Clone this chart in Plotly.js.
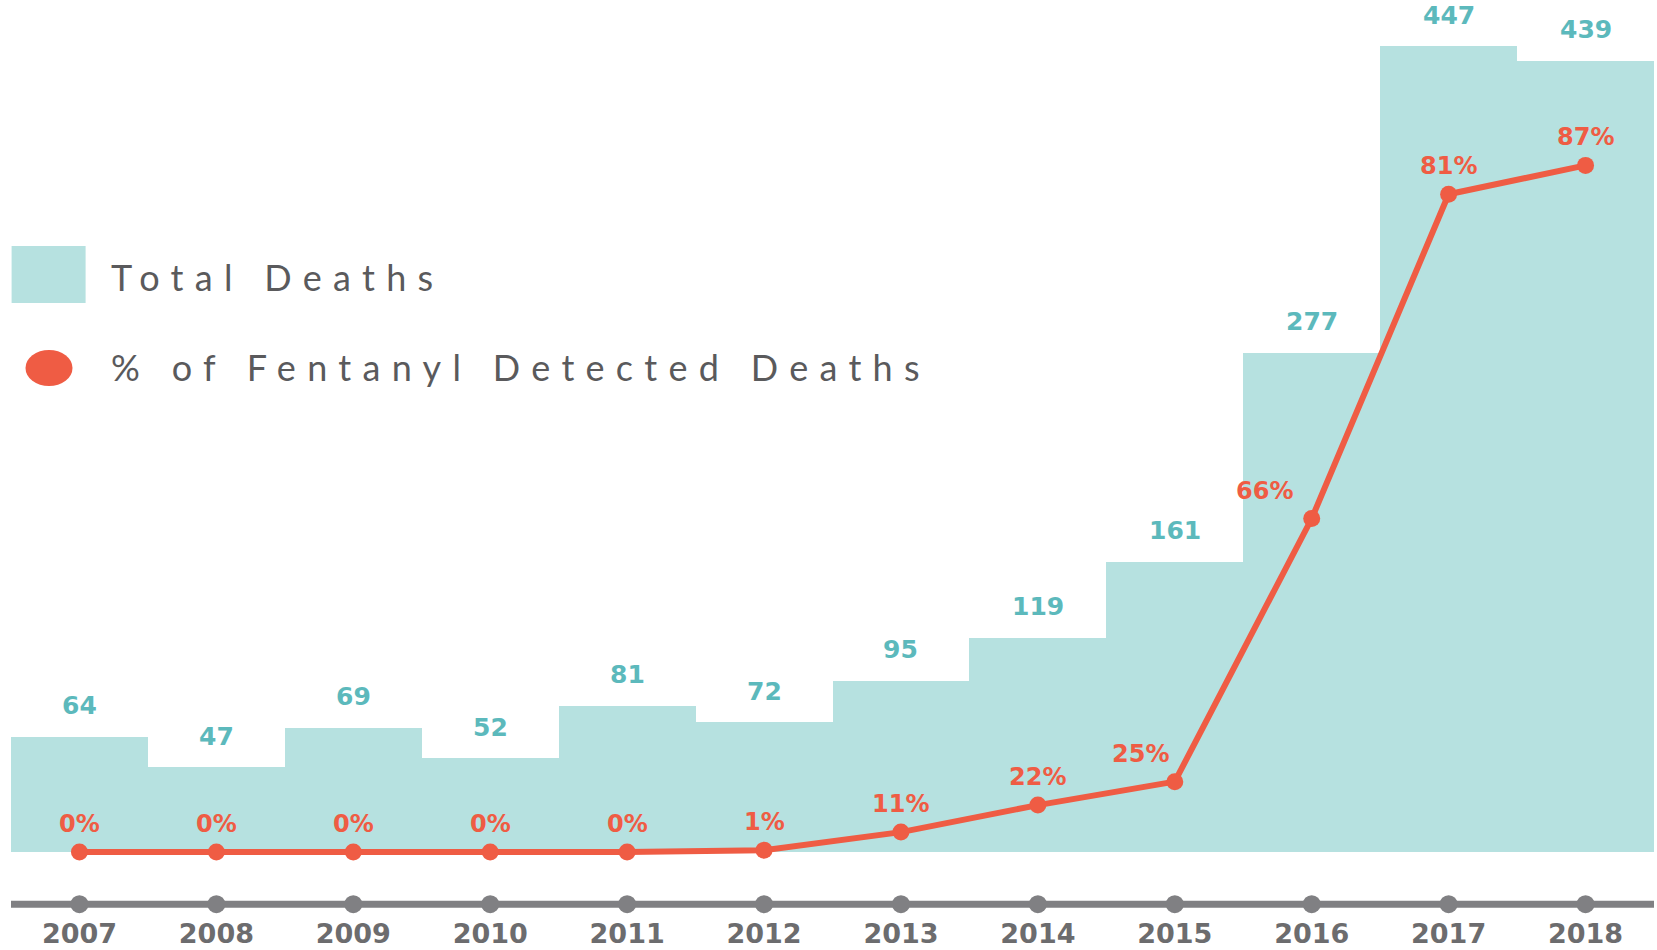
<!DOCTYPE html>
<html>
<head>
<meta charset="utf-8">
<script src="https://cdn.plot.ly/plotly-3.0.1.min.js"></script>
<style>
  html, body { margin: 0; padding: 0; background: #ffffff; }
  #chart { width: 1657px; height: 950px; }
  text[style*="Lato"] { letter-spacing: 11.3px; }
</style>
</head>
<body>
<div id="chart"></div>
<script>
// ---- data ----
const years = ['2007','2008','2009','2010','2011','2012','2013','2014','2015','2016','2017','2018'];
const totalDeaths = [64, 47, 69, 52, 81, 72, 95, 119, 161, 277, 447, 439];
const fentanylDeaths = [0, 0, 0, 0, 0, 1, 11, 26, 39, 185, 365, 381];
const fentanylPctLabels = ['0%','0%','0%','0%','0%','1%','11%','22%','25%','66%','81%','87%'];
const pctLabelShift = [0, 0, 0, 0, 0, 0, 0, 0, -34, -47, 0, 0];

// ---- styling ----
const W = 1657, H = 950;
const M = {l: 11, r: 3, t: 5, b: 35};
const Y_MIN = -35, Y_MAX = 470, AXIS_Y = -29;
const TEAL_FILL = '#b6e1e0', TEAL_TEXT = '#5cb9bc';
const RED = '#ef5c44', GRAY = '#808083', GRAY_TEXT = '#6c6c6e', LEG_TEXT = '#5a5a5c';
const NUM_FONT = 'DejaVu Sans';

const pw = W - M.l - M.r, ph = H - M.t - M.b;
const px2x = p => (p - M.l) / pw;
const px2y = p => 1 - (p - M.t) / ph;

const bars = {
  type: 'bar', x: years, y: totalDeaths,
  marker: {color: TEAL_FILL, line: {width: 0}},
  width: 1, hoverinfo: 'skip'
};
const line = {
  type: 'scatter', mode: 'lines+markers', x: years, y: fentanylDeaths,
  line: {color: RED, width: 6},
  marker: {color: RED, size: 17},
  hoverinfo: 'skip', cliponaxis: false
};
const axisDots = {
  type: 'scatter', mode: 'markers', x: years, y: years.map(() => AXIS_Y),
  marker: {color: GRAY, size: 18},
  hoverinfo: 'skip', cliponaxis: false
};

const annotations = [
  {xref: 'paper', yref: 'paper', x: px2x(109), y: px2y(277), xanchor: 'left', yanchor: 'middle',
   text: 'Total Deaths', showarrow: false, font: {family: 'Lato', size: 36, color: LEG_TEXT}},
  {xref: 'paper', yref: 'paper', x: px2x(109), y: px2y(367), xanchor: 'left', yanchor: 'middle',
   text: '% of Fentanyl Detected Deaths', showarrow: false, font: {family: 'Lato', size: 36, color: LEG_TEXT}}
];
// category axis with numeric-looking names: annotations use the category index
years.forEach((yr, i) => {
  annotations.push({xref: 'x', yref: 'y', x: i, y: totalDeaths[i], yshift: 31, text: String(totalDeaths[i]),
    showarrow: false, xanchor: 'center', yanchor: 'middle',
    font: {family: NUM_FONT, size: 25, color: TEAL_TEXT, weight: 'bold'}});
  annotations.push({xref: 'x', yref: 'y', x: i, y: fentanylDeaths[i], yshift: 28, xshift: pctLabelShift[i],
    text: fentanylPctLabels[i], showarrow: false, xanchor: 'center', yanchor: 'middle',
    font: {family: NUM_FONT, size: 24, color: RED, weight: 'bold'}});
});

const shapes = [
  {type: 'line', xref: 'paper', yref: 'y', x0: 0, x1: 1, y0: AXIS_Y, y1: AXIS_Y,
   line: {color: GRAY, width: 7}, layer: 'below'},
  {type: 'rect', xref: 'paper', yref: 'paper', x0: px2x(11.6), x1: px2x(85.6), y0: px2y(303), y1: px2y(246),
   fillcolor: TEAL_FILL, line: {width: 0}},
  {type: 'circle', xref: 'paper', yref: 'paper', x0: px2x(25.5), x1: px2x(72.5), y0: px2y(386), y1: px2y(350),
   fillcolor: RED, line: {width: 0}}
];

const layout = {
  width: W, height: H,
  margin: M,
  paper_bgcolor: '#ffffff', plot_bgcolor: '#ffffff',
  showlegend: false,
  bargap: 0,
  xaxis: {type: 'category', range: [-0.5, 11.5], showgrid: false, zeroline: false, showline: false,
    ticks: '',
    tickfont: {family: NUM_FONT, size: 27, color: GRAY_TEXT, weight: 'bold'}, fixedrange: true},
  yaxis: {range: [Y_MIN, Y_MAX], showgrid: false, zeroline: false, showline: false,
    showticklabels: false, ticks: '', fixedrange: true},
  annotations: annotations,
  shapes: shapes
};

Plotly.newPlot('chart', [bars, line, axisDots], layout, {displayModeBar: false, staticPlot: true});
</script>
</body>
</html>
